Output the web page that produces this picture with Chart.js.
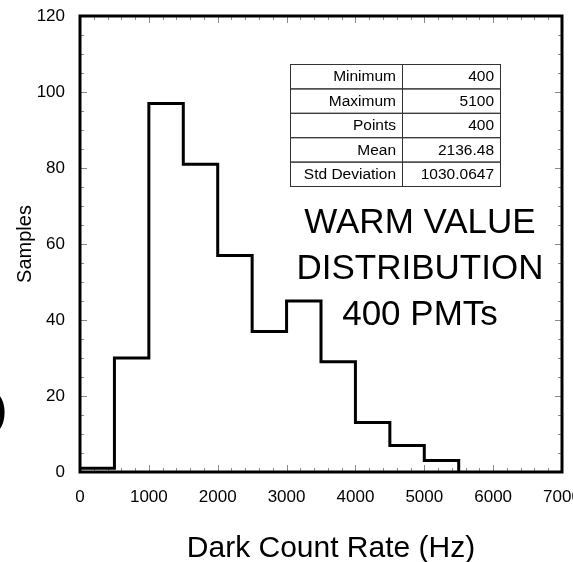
<!DOCTYPE html>
<html>
<head>
<meta charset="utf-8">
<script src="https://cdn.jsdelivr.net/npm/chart.js@4/dist/chart.umd.min.js"></script>
<style>
  html, body { margin: 0; padding: 0; background: #fff; }
  canvas { display: block; }
</style>
</head>
<body>
<canvas id="histChart" width="573" height="562"></canvas>
<script>
// histogram bins (left edge, Hz) and number of PMTs in each bin
const binEdges = [0, 500, 1000, 1500, 2000, 2500, 3000, 3500, 4000, 4500, 5000, 5500];
const counts = [1, 30, 97, 81, 57, 37, 45, 29, 13, 7, 3, 0];

const xTickValues = [0, 1000, 2000, 3000, 4000, 5000, 6000, 7000];
const yTickValues = [0, 20, 40, 60, 80, 100, 120];

const statLabels = ['Minimum', 'Maximum', 'Points', 'Mean', 'Std Deviation'];
const statValues = ['400', '5100', '400', '2136.48', '1030.0647'];

const noteLines = ['WARM VALUE', 'DISTRIBUTION', '400 PMTs'];

const FONT = 'Arial, "Liberation Sans", sans-serif';

const points = binEdges.map((e, i) => ({ x: e, y: counts[i] }));

const decorPlugin = {
    id: 'decor',
    beforeDatasetsDraw(chart) {
        const { ctx, chartArea: a, scales: { x, y } } = chart;
        ctx.save();
        ctx.strokeStyle = '#8a8a8a';
        ctx.lineWidth = 1;
        ctx.beginPath();
        for (let v = 0; v <= 7000; v += 200) {
            const px = Math.round(x.getPixelForValue(v)) + 0.5;
            const len = v % 1000 === 0 ? 7 : 4;
            ctx.moveTo(px, a.bottom); ctx.lineTo(px, a.bottom - len);
            ctx.moveTo(px, a.top); ctx.lineTo(px, a.top + len);
        }
        for (let v = 0; v <= 120; v += 5) {
            const py = Math.round(y.getPixelForValue(v)) + 0.5;
            const len = v % 20 === 0 ? 7 : 4;
            ctx.moveTo(a.left, py); ctx.lineTo(a.left + len, py);
            ctx.moveTo(a.right, py); ctx.lineTo(a.right - len, py);
        }
        ctx.stroke();
        ctx.restore();
    },
    afterDatasetsDraw(chart) {
        const { ctx, chartArea: a } = chart;
        ctx.save();
        ctx.strokeStyle = '#000';
        ctx.lineWidth = 3;
        ctx.strokeRect(a.left, a.top, a.right - a.left, a.bottom - a.top);

        // stats table
        const tL = 290, tR = 500, tMid = 402, tTop = 64, rowH = 24.4;
        ctx.lineWidth = 1;
        ctx.strokeStyle = '#333';
        ctx.font = '15.5px ' + FONT;
        ctx.fillStyle = '#000';
        ctx.textAlign = 'right';
        ctx.textBaseline = 'middle';
        statLabels.forEach((lab, i) => {
            const ry = tTop + i * rowH;
            ctx.strokeRect(tL + 0.5, ry + 0.5, tMid - tL, rowH);
            ctx.strokeRect(tMid + 0.5, ry + 0.5, tR - tMid, rowH);
            ctx.fillText(lab, tMid - 6, ry + rowH / 2 + 1);
            ctx.fillText(statValues[i], tR - 6, ry + rowH / 2 + 1);
        });

        // big note
        ctx.font = '35px ' + FONT;
        ctx.textAlign = 'center';
        ctx.textBaseline = 'alphabetic';
        const base = [233, 279, 325];
        noteLines.forEach((t, i) => ctx.fillText(t, 420, base[i]));

        // x axis title
        ctx.font = '30px ' + FONT;
        ctx.fillText('Dark Count Rate (Hz)', 331, 557);

        // cut-off glyph at the left edge
        ctx.font = '72px ' + FONT;
        ctx.textAlign = 'left';
        ctx.fillText('O', -48, 438);
        ctx.restore();
    }
};

new Chart(document.getElementById('histChart'), {
    type: 'line',
    data: {
        datasets: [{
            data: points,
            stepped: 'before',
            borderColor: '#000',
            borderWidth: 3,
            pointRadius: 0,
            fill: false,
            clip: false
        }]
    },
    options: {
        responsive: false,
        animation: false,
        layout: { padding: { top: 16, right: 11, left: 0, bottom: 0 } },
        plugins: { legend: { display: false }, tooltip: { enabled: false } },
        scales: {
            x: {
                type: 'linear',
                min: 0,
                max: 7000,
                afterBuildTicks: s => { s.ticks = xTickValues.map(v => ({ value: v })); },
                afterFit: s => { s.height = 90; s.paddingLeft = 0; s.paddingRight = 0; },
                grid: { display: false, drawTicks: false },
                border: { display: false },
                ticks: {
                    color: '#000',
                    font: { family: FONT, size: 17 },
                    padding: 15,
                    maxRotation: 0,
                    autoSkip: false,
                    callback: v => String(v)
                }
            },
            y: {
                min: 0,
                max: 120,
                afterBuildTicks: s => { s.ticks = yTickValues.map(v => ({ value: v })); },
                afterFit: s => { s.width = 80; s.paddingTop = 0; s.paddingBottom = 0; },
                grid: { display: false, drawTicks: false },
                border: { display: false },
                ticks: {
                    color: '#000',
                    font: { family: FONT, size: 17 },
                    padding: 15,
                    callback: v => String(v)
                },
                title: {
                    display: true,
                    text: 'Samples',
                    color: '#000',
                    font: { family: FONT, size: 20 },
                    padding: { top: 13, bottom: 0 }
                }
            }
        }
    },
    plugins: [decorPlugin]
});
</script>
</body>
</html>
